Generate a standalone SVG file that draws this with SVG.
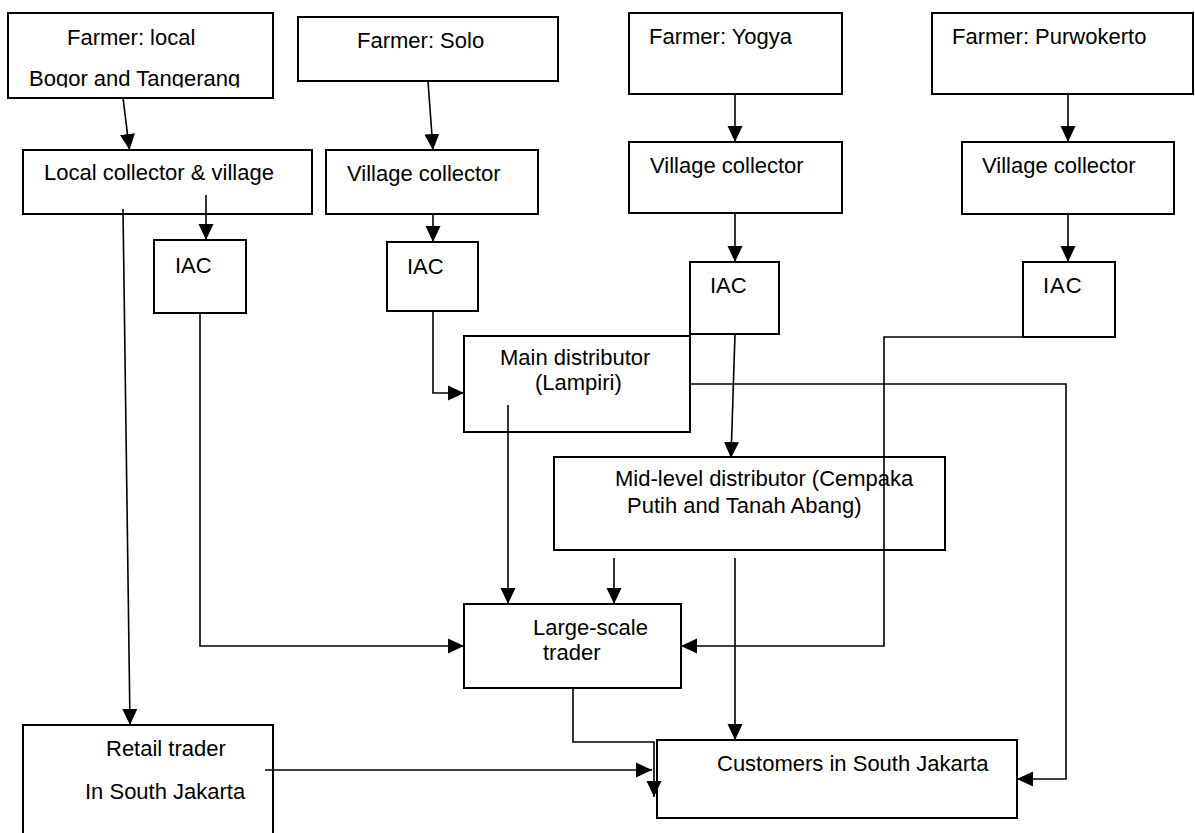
<svg xmlns="http://www.w3.org/2000/svg" width="1195" height="833" viewBox="0 0 1195 833">
<defs>
<style>
.box{fill:#fff;stroke:#000;stroke-width:2}
.t{font-family:"Liberation Sans",Arial,sans-serif;font-size:22px;fill:#000}
.c{fill:none;stroke:#000;stroke-width:1.6}
</style>
<marker id="ah" markerUnits="userSpaceOnUse" markerWidth="17" markerHeight="16" refX="16" refY="7.5" orient="auto" viewBox="0 0 17 15">
<path d="M0,0 L16,7.5 L0,15 z" fill="#000"/>
</marker>
<clipPath id="clipBogor"><rect x="0" y="0" width="300" height="87.5"/></clipPath>
</defs>
<rect width="1195" height="833" fill="#fff"/>

<g id="farmer-local">
<rect class="box" x="8" y="13" width="265" height="85"/>
<text class="t" x="67" y="45">Farmer: local</text>
<text class="t" x="29" y="86" clip-path="url(#clipBogor)">Bogor and Tangerang</text>
</g>
<g id="farmer-solo">
<rect class="box" x="298" y="17" width="260" height="64"/>
<text class="t" x="357" y="48">Farmer: Solo</text>
</g>
<g id="farmer-yogya">
<rect class="box" x="629" y="13" width="213" height="81"/>
<text class="t" x="649" y="44">Farmer: Yogya</text>
</g>
<g id="farmer-purwokerto">
<rect class="box" x="932" y="13" width="261" height="81"/>
<text class="t" x="952" y="44">Farmer: Purwokerto</text>
</g>
<g id="collector-local">
<rect class="box" x="23" y="150" width="289" height="64"/>
<text class="t" x="44" y="180">Local collector &amp; village</text>
</g>
<g id="collector-solo">
<rect class="box" x="326" y="150" width="212" height="64"/>
<text class="t" x="347" y="181">Village collector</text>
</g>
<g id="collector-yogya">
<rect class="box" x="629" y="142" width="213" height="71"/>
<text class="t" x="650" y="173">Village collector</text>
</g>
<g id="collector-purwokerto">
<rect class="box" x="962" y="142" width="212" height="72"/>
<text class="t" x="982" y="173">Village collector</text>
</g>
<g id="iac-local">
<rect class="box" x="154" y="240" width="92" height="73"/>
<text class="t" x="175" y="273">IAC</text>
</g>
<g id="iac-solo">
<rect class="box" x="387" y="242" width="91" height="69"/>
<text class="t" x="407" y="274">IAC</text>
</g>
<g id="iac-yogya">
<rect class="box" x="690" y="262" width="89" height="72"/>
<text class="t" x="710" y="293">IAC</text>
</g>
<g id="iac-purwokerto">
<rect class="box" x="1023" y="262" width="92" height="75"/>
<text class="t" x="1043" y="293" letter-spacing="1">IAC</text>
</g>
<g id="main-distributor">
<rect class="box" x="464" y="336" width="226" height="96"/>
<text class="t" x="500" y="365">Main distributor</text>
<text class="t" x="535" y="390">(Lampiri)</text>
</g>
<g id="mid-level-distributor">
<rect class="box" x="554" y="457" width="391" height="93"/>
<text class="t" x="615" y="486">Mid-level distributor (Cempaka</text>
<text class="t" x="627" y="513">Putih and Tanah Abang)</text>
</g>
<g id="large-scale-trader">
<rect class="box" x="464" y="604" width="217" height="84"/>
<text class="t" x="533" y="635">Large-scale</text>
<text class="t" x="543" y="660">trader</text>
</g>
<g id="retail-trader">
<rect class="box" x="23" y="725" width="250" height="130"/>
<text class="t" x="106" y="756">Retail trader</text>
<text class="t" x="85" y="799">In South Jakarta</text>
</g>
<g id="customers">
<rect class="box" x="657" y="740" width="360" height="78"/>
<text class="t" x="717" y="771">Customers in South Jakarta</text>
</g>

<g id="connectors">
<path class="c" d="M123,98 L129.5,150" marker-end="url(#ah)"/>
<path class="c" d="M428,81 L433,150" marker-end="url(#ah)"/>
<path class="c" d="M735,94 L735,142" marker-end="url(#ah)"/>
<path class="c" d="M1068,94 L1068,142" marker-end="url(#ah)"/>
<path class="c" d="M206,195 L206,240" marker-end="url(#ah)"/>
<path class="c" d="M433,214 L433,242" marker-end="url(#ah)"/>
<path class="c" d="M735,213 L735,262" marker-end="url(#ah)"/>
<path class="c" d="M1068,214 L1068,262" marker-end="url(#ah)"/>
<path class="c" d="M123,209 L130,725" marker-end="url(#ah)"/>
<path class="c" d="M200,313 L200,646 L464,646" marker-end="url(#ah)"/>
<path class="c" d="M433,311 L433,393 L464,393" marker-end="url(#ah)"/>
<path class="c" d="M735,334 L731,458" marker-end="url(#ah)"/>
<path class="c" d="M1087,337 L884,337 L884,646 L681,646" marker-end="url(#ah)"/>
<path class="c" d="M508,405 L508,604" marker-end="url(#ah)"/>
<path class="c" d="M690,384 L1066,384 L1066,779 L1017,779" marker-end="url(#ah)"/>
<path class="c" d="M614,558 L614,604" marker-end="url(#ah)"/>
<path class="c" d="M735,558 L735,740" marker-end="url(#ah)"/>
<path class="c" d="M573,688 L573,742 L654,742 L654,797" stroke-width="2.2" marker-end="url(#ah)"/>
<path class="c" d="M265,770 L652,770" marker-end="url(#ah)"/>
</g>
</svg>
